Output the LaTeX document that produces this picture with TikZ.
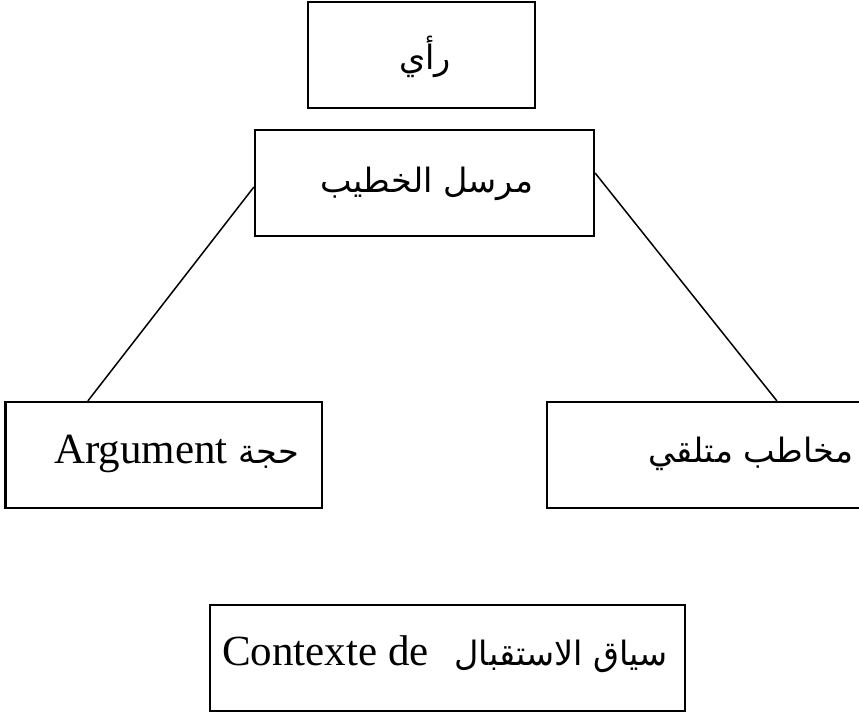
\documentclass[tikz,border=0pt]{standalone}
\usepackage{fontspec}
\setmainfont{Liberation Serif}
\newfontfamily\arabicfont[Script=Arabic,Scale=0.78]{DejaVu Sans}
\TeXXeTstate=1
\begin{document}
\begin{tikzpicture}[x=1pt,y=-1pt,
  box/.style={draw=black,line width=2.2pt,rectangle,inner sep=0pt,minimum height=106pt},
  txt/.style={anchor=base,inner sep=0pt,font=\fontsize{43}{50}\selectfont},
  link/.style={draw=black,line width=1.5pt}]
\useasboundingbox (0,0) rectangle (859,712);
\clip (0,0) rectangle (859,712);
\fill[white] (0,0) rectangle (859,712);
% boxes
\node[box,minimum width=227pt] (opinion) at (421.5,55) {};
\node[box,minimum width=339pt] (sender) at (424.5,183) {};
\node[box,minimum width=316.5pt] (arg) at (163.75,455) {};
\node[box,minimum width=408pt] (recv) at (751,455) {};
\node[box,minimum width=475pt] (ctx) at (447.5,658) {};
% texts
\node[txt] (topt) at (425,69) {\arabicfont\beginR رأي\endR};
\node[txt] (sendert) at (427,192) {\arabicfont\beginR مرسل الخطيب\endR};
\node[txt] (argt) at (176.5,463) {Argument {\arabicfont\beginR حجة\endR}};
\node[txt] (recvt) at (751,462) {\arabicfont\beginR مخاطب متلقي\endR};
\node[txt] (ctxt) at (445,665) {Contexte de\hspace{0.6em}{\arabicfont\beginR سياق الاستقبال\endR}};
% connectors
\coordinate (sl) at ([yshift=-4pt]sender.west);
\coordinate (sr) at ([yshift=10pt]sender.east);
\coordinate (al) at ([xshift=83.5pt]arg.north west);
\coordinate (rl) at ([xshift=231pt]recv.north west);
\draw[link] (sl) -- (al);
\draw[link] (sr) -- (rl);
\end{tikzpicture}
\end{document}
